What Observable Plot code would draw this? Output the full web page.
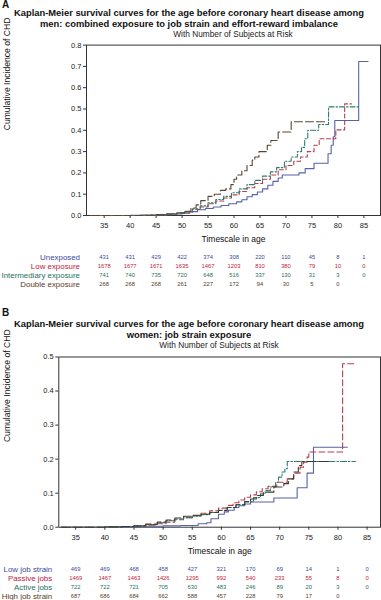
<!DOCTYPE html>
<html><head><meta charset="utf-8">
<script src="https://cdn.jsdelivr.net/npm/d3@7"></script>
<script src="https://cdn.jsdelivr.net/npm/@observablehq/plot@0.6"></script>
<style>
body{margin:0;background:#fff;font-family:"Liberation Sans",Arial,Helvetica,sans-serif;}
#root{position:relative;width:381px;height:600px;overflow:hidden;background:#fff;}
.t{position:absolute;white-space:nowrap;color:#111;}
.lab{font-weight:bold;font-size:10px;line-height:10px;left:2px;}
.title{left:0;width:378px;text-align:center;font-weight:bold;font-size:9.4px;line-height:11px;}
.sub{text-align:center;font-size:8.3px;line-height:10px;color:#222;}
.svgbox{position:absolute;left:0;}
.svgbox svg{overflow:visible;display:block;}
</style></head><body><div id="root"></div>
<script>
const FONT = '"Liberation Sans", Arial, Helvetica, sans-serif';
const tickAges = [35, 40, 45, 50, 55, 60, 65, 70, 75, 80, 85];

// ---------- Panel A (men) ----------
const aNames = ["Unexposed", "Low exposure", "Intermediary exposure", "Double exposure"];
const aUnexpAge = [32.5,40,44,46,48,50,51.5,53,54.5,56,57.5,59,60.5,61.5,62.5,63.5,64.5,65.5,66.5,67.5,68.5,69.3,72.5,73.7,75.4,78.1,78.7,79.1,79.4,84.0,85.8];
const aUnexpCI  = [0,0.001,0.002,0.004,0.007,0.011,0.018,0.027,0.033,0.04,0.047,0.055,0.064,0.074,0.088,0.098,0.11,0.125,0.142,0.16,0.176,0.19,0.2,0.22,0.245,0.29,0.33,0.37,0.446,0.723,0.723];
const aLowAge = [32.5,42,45,47,49,50.5,52,53.5,55,56.5,58,59.5,61,62.5,64,65.5,67,68.5,70,71.5,72.8,74.1,75.4,76.4,79.6,81.3,82.6];
const aLowCI  = [0,0.001,0.003,0.006,0.01,0.016,0.028,0.04,0.055,0.068,0.082,0.097,0.113,0.13,0.15,0.17,0.19,0.215,0.235,0.255,0.275,0.3,0.33,0.36,0.402,0.524,0.524];
const aInterAge = [32.5,42,45,47,49,50.5,52,53.5,55,56.5,58,59.5,61,62.5,64,65.5,67,68.2,69.7,71,72.2,73,73.6,74.2,76.3,78.2,84.2];
const aInterCI  = [0,0.001,0.003,0.006,0.01,0.018,0.032,0.045,0.06,0.075,0.09,0.107,0.125,0.145,0.165,0.185,0.205,0.225,0.255,0.275,0.3,0.32,0.36,0.4,0.427,0.51,0.51];
const aDoubleAge = [32.5,42,45,47,49,50.5,51.7,52.7,53.6,55,56.2,57.4,58.4,59.4,60,60.5,61.5,62.5,63.5,64,64.8,66.4,67.1,68.5,71.0,77.4];
const aDoubleCI  = [0,0.001,0.004,0.008,0.013,0.02,0.035,0.05,0.07,0.09,0.1,0.118,0.125,0.145,0.17,0.19,0.21,0.235,0.26,0.275,0.3,0.33,0.352,0.392,0.44,0.44];
const aRiskUnexp  = [431, 431, 429, 422, 374, 308, 220, 110, 45, 8, 1];
const aRiskLow    = [1678, 1677, 1671, 1635, 1467, 1203, 810, 380, 79, 10, 0];
const aRiskInter  = [741, 740, 735, 720, 648, 516, 337, 130, 31, 3, 0];
const aRiskDouble = [268, 268, 268, 261, 227, 172, 94, 30, 5, 0];

// ---------- Panel B (women) ----------
const bNames = ["Low job strain", "Passive jobs", "Active jobs", "High job strain"];
const bLowAge = [32.5,44,46,50,53,56,57.5,58.2,59.5,60.5,61.2,62.2,63,64,65,69,73,74.7,75.8,81.6];
const bLowCI  = [0,0.001,0.003,0.004,0.005,0.01,0.013,0.025,0.038,0.045,0.05,0.058,0.063,0.068,0.074,0.086,0.116,0.159,0.235,0.235];
const bPassAge = [32.5,40,43,45,47,49,50.5,52,53.5,55,56.5,58,59.5,61,62,63,64,65,66,67,68,69.5,71.3,72.4,73.5,74.1,74.7,75.0,80.8,82.7];
const bPassCI  = [0,0.001,0.002,0.003,0.006,0.01,0.015,0.022,0.028,0.034,0.041,0.048,0.056,0.064,0.072,0.08,0.088,0.095,0.104,0.113,0.12,0.132,0.142,0.159,0.176,0.191,0.206,0.221,0.48,0.48];
const bActAge = [32.5,40,43,45,47,49,50.5,52,53.5,55,56.5,58,59.5,61,62.5,64,65.5,66.7,67.5,68.4,69.3,69.8,70.4,70.9,71.3,83.0];
const bActCI  = [0,0.001,0.002,0.004,0.008,0.013,0.019,0.024,0.028,0.032,0.037,0.043,0.05,0.058,0.066,0.075,0.087,0.098,0.108,0.118,0.132,0.147,0.162,0.172,0.193,0.193];
const bHighAge = [32.5,40,43,45,47,49,50.5,52,53.5,55,56.5,58,59.5,61,62.5,64,65,66,67.2,69,70.7,71.5,72.4,73.2,73.8,78.7];
const bHighCI  = [0,0.001,0.002,0.004,0.009,0.015,0.021,0.027,0.032,0.035,0.038,0.043,0.049,0.058,0.066,0.075,0.083,0.093,0.103,0.118,0.128,0.142,0.162,0.181,0.193,0.193];
const bRiskLow  = [469, 469, 468, 458, 427, 321, 170, 69, 14, 1, 0];
const bRiskPass = [1469, 1467, 1463, 1426, 1295, 992, 540, 233, 55, 8, 0];
const bRiskAct  = [722, 722, 721, 705, 630, 483, 246, 89, 20, 3, 0];
const bRiskHigh = [687, 686, 684, 662, 588, 457, 228, 79, 17, 0];

// styles
const lineColors = ["#5563a8", "#b5404e", "#2e7d6e", "#5b4530"];
const lineColorsB = ["#5563a8", "#b5404e", "#2e7d6e", "#3f3b2c"];
const tableColors = ["#3c4a9c", "#c0203c", "#1f6f60", "#5a3a1e"];
const dashA = [null, "4,2.5", "5,2,1.5,2", "8,3"];
const dashB = [null, "6,3", "6,2,1.5,2", "9,3"];

function zipCurve(name, ages, ci) { return ages.map((a, i) => ({series: name, age: a, ci: ci[i]})); }
function zipRisk(name, risk) { return risk.map((n, i) => ({series: name, age: tickAges[i], n})); }

const root = document.getElementById("root");
function addText(cls, txt, style) {
  const d = document.createElement("div");
  d.className = "t " + cls; d.textContent = txt;
  Object.assign(d.style, style); root.appendChild(d); return d;
}
function addSvg(node, top) {
  const d = document.createElement("div");
  d.className = "svgbox"; d.style.top = top + "px";
  d.appendChild(node); root.appendChild(d);
}

function curvePlot(cfg) {
  const marks = [
    Plot.frame({stroke: "#333", strokeWidth: 1}),
    Plot.axisX({ticks: tickAges, tickSize: 3, tickPadding: 4, fontSize: 7.5, label: null, stroke: "#333", fill: "#222"}),
    Plot.axisY({ticks: cfg.yTicks, tickSize: 3, tickPadding: 2, fontSize: 7.5, tickFormat: d3.format(".1f"), label: null, stroke: "#333", fill: "#222"}),
    Plot.text(["Timescale in age"], {frameAnchor: "bottom", dy: cfg.xLabelDy, fontSize: 8.5, fill: "#111"}),
    Plot.text(["Cumulative Incidence of CHD"], {frameAnchor: "left", rotate: -90, dx: cfg.yLabelDx, fontSize: 8.6, fill: "#111"})
  ];
  cfg.curves.forEach((c, i) => {
    marks.push(Plot.line(c, {x: "age", y: "ci", curve: "step-after", stroke: cfg.colors[i], strokeWidth: 1.1, strokeDasharray: cfg.dash[i]}));
  });
  return Plot.plot({
    width: 381, height: cfg.height,
    marginLeft: cfg.ml, marginRight: cfg.mr, marginTop: cfg.mt, marginBottom: cfg.mb,
    x: {domain: cfg.xDomain},
    y: {domain: cfg.yDomain},
    style: {fontFamily: FONT, background: "transparent", color: "#222"},
    marks
  });
}

function riskPlot(cfg) {
  const rows = cfg.risks.flatMap((r, i) => zipRisk(cfg.names[i], r));
  return Plot.plot({
    width: 381, height: cfg.height,
    marginLeft: cfg.ml, marginRight: cfg.mr, marginTop: 0, marginBottom: 0,
    x: {domain: cfg.xDomain, axis: null},
    y: {type: "point", domain: cfg.names, range: cfg.yRange, padding: 0, axis: null},
    color: {domain: cfg.names, range: tableColors},
    style: {fontFamily: FONT, background: "transparent"},
    marks: [
      Plot.text(rows, {x: "age", y: "series", text: d => String(d.n), fill: "series", fontSize: 5.8}),
      Plot.text(cfg.names, {y: d => d, fill: d => d, frameAnchor: "left", textAnchor: "end", dx: cfg.labelDx, fontSize: 7.9})
    ]
  });
}

// ---------- Panel A ----------
addText("lab", "A", {top: "0px"});
addText("title", "Kaplan-Meier survival curves for the age before coronary heart disease among", {top: "6.5px"});
addText("title", "men: combined exposure to job strain and effort-reward imbalance", {top: "17.5px"});
addText("sub", "With Number of Subjects at Risk", {top: "28.5px", left: "86px", width: "294px"});

const aXDomain = [31.6, 88.2];
addSvg(curvePlot({
  height: 212, ml: 86, mr: 1, mt: 8.6, mb: 33,
  xDomain: aXDomain, yDomain: [0, 0.8], yTicks: [0, 0.1, 0.2, 0.3, 0.4, 0.5, 0.6, 0.7, 0.8],
  xLabelDy: 26, yLabelDx: -79,
  curves: [zipCurve(aNames[0], aUnexpAge, aUnexpCI), zipCurve(aNames[1], aLowAge, aLowCI),
           zipCurve(aNames[2], aInterAge, aInterCI), zipCurve(aNames[3], aDoubleAge, aDoubleCI)],
  colors: lineColors, dash: dashA
}), 36);
addSvg(riskPlot({
  height: 40, ml: 86, mr: 1, xDomain: aXDomain, yRange: [6.7, 33.7], labelDx: -6.5,
  names: aNames, risks: [aRiskUnexp, aRiskLow, aRiskInter, aRiskDouble]
}), 250);

// ---------- Panel B ----------
addText("lab", "B", {top: "308px"});
addText("title", "Kaplan-Meier survival curves for the age before coronary heart disease among", {top: "317.5px"});
addText("title", "women: job strain exposure", {top: "328.5px"});
addText("sub", "With Number of Subjects at Risk", {top: "339.5px", left: "58px", width: "322px"});

const bXDomain = [32.1, 87.3];
addSvg(curvePlot({
  height: 212, ml: 58.3, mr: 1, mt: 9.5, mb: 32.3,
  xDomain: bXDomain, yDomain: [0, 0.5], yTicks: [0, 0.1, 0.2, 0.3, 0.4, 0.5],
  xLabelDy: 26.3, yLabelDx: -52,
  curves: [zipCurve(bNames[0], bLowAge, bLowCI), zipCurve(bNames[1], bPassAge, bPassCI),
           zipCurve(bNames[2], bActAge, bActCI), zipCurve(bNames[3], bHighAge, bHighCI)],
  colors: lineColorsB, dash: dashB
}), 347);
addSvg(riskPlot({
  height: 38, ml: 58.3, mr: 1, xDomain: bXDomain, yRange: [6, 33], labelDx: -6.6,
  names: bNames, risks: [bRiskLow, bRiskPass, bRiskAct, bRiskHigh]
}), 563);
</script></body></html>
